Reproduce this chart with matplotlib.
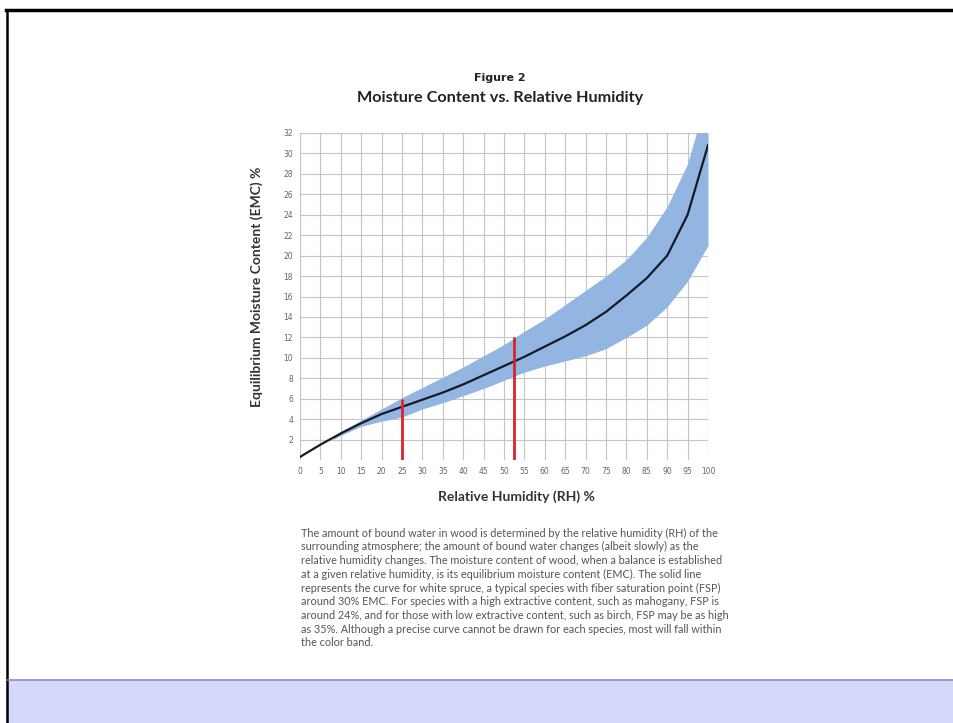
import matplotlib.pyplot as plt
from matplotlib.patches import Rectangle
from matplotlib.lines import Line2D
import numpy as np

# curve for white spruce
rh = [0, 5, 10, 15, 20, 25, 30, 35, 40, 45, 50, 55, 60, 65, 70, 75, 80, 85, 90, 95, 100]
emc = [0.3, 1.5, 2.6, 3.6, 4.5, 5.2, 5.9, 6.6, 7.4, 8.3, 9.2, 10.1, 11.1, 12.1, 13.2, 14.5, 16.1, 17.8, 20.0, 24.0, 30.8]

# colour band (species range)
band_rh = [8, 10, 15, 20, 25, 30, 35, 40, 45, 50, 55, 60, 65, 70, 75, 80, 85, 90, 95, 100]
band_hi = [2.2, 2.8, 3.9, 5.0, 6.1, 7.1, 8.1, 9.1, 10.2, 11.3, 12.6, 13.8, 15.2, 16.6, 18.0, 19.6, 21.8, 24.8, 29.0, 36.0]
band_lo = [2.0, 2.4, 3.3, 3.8, 4.2, 5.0, 5.6, 6.3, 7.0, 7.8, 8.6, 9.2, 9.7, 10.2, 10.9, 12.0, 13.2, 15.0, 17.5, 21.0]

# red markers
mark_rh = [25, 52.5]
mark_top = [6, 12]

xticks = list(range(0, 101, 5))
yticks = list(range(2, 33, 2))

caption = [
    "The amount of bound water in wood is determined by the relative humidity (RH) of the",
    "surrounding atmosphere; the amount of bound water changes (albeit slowly) as the",
    "relative humidity changes. The moisture content of wood, when a balance is established",
    "at a given relative humidity, is its equilibrium moisture content (EMC). The solid line",
    "represents the curve for white spruce, a typical species with fiber saturation point (FSP)",
    "around 30% EMC. For species with a high extractive content, such as mahogany, FSP is",
    "around 24%, and for those with low extractive content, such as birch, FSP may be as high",
    "as 35%. Although a precise curve cannot be drawn for each species, most will fall within",
    "the color band.",
]

W, H = 954, 723
fig = plt.figure(figsize=(W / 100, H / 100), dpi=100)
fig.patch.set_facecolor('white')

def fx(px):
    return px / W

def fy(py):
    return 1 - py / H

# page frame + blue footer bar
fig.add_artist(Line2D([fx(6), 1], [fy(10), fy(10)], color='black', lw=2.5))
fig.add_artist(Line2D([fx(7), fx(7)], [fy(10), 0], color='black', lw=1.8))
fig.add_artist(Rectangle((fx(8), 0), 1 - fx(8), fy(680), facecolor='#d6d8fc',
                         edgecolor='none'))
fig.add_artist(Line2D([fx(8), 1], [fy(680), fy(680)], color='#8a8fc4', lw=1.2))

ax = fig.add_axes([fx(300), fy(460), fx(708) - fx(300), fy(133) - fy(460)])
ax.set_xlim(0, 100)
ax.set_ylim(0, 32)

ax.fill_between(band_rh, band_lo, band_hi, color='#92b5e2', lw=0, zorder=2)
ax.plot(rh, emc, color='#161a24', lw=1.6, zorder=4)
for x, top in zip(mark_rh, mark_top):
    ax.plot([x, x], [0, top], color='#d8252b', lw=2.0, zorder=5, solid_capstyle='butt')

ax.set_xticks(xticks)
ax.set_yticks(yticks)
ax.grid(True, color='#c4c4c4', lw=0.8, zorder=1)
ax.set_axisbelow(True)
ax.tick_params(length=0, labelsize=5.5, labelcolor='#666666', pad=5)
for s in ax.spines.values():
    s.set_visible(False)
ax.axhline(32, color='#c4c4c4', lw=0.8, zorder=1)
ax.axvline(100, color='#c4c4c4', lw=0.8, zorder=1)

fig.text(fx(500), fy(78), "Figure 2", ha='center', va='center', fontsize=8,
         fontweight='bold', family='Liberation Sans Narrow', color='#222222')
fig.text(fx(500), fy(98), "Moisture Content vs. Relative Humidity", ha='center',
         va='center', fontsize=11.7, fontweight='bold', family='Lato', color='#222222')
fig.text(fx(516), fy(497), "Relative Humidity (RH) %", ha='center', va='center',
         fontsize=10, fontweight='bold', family='Lato', color='#333333')
fig.text(fx(257), fy(287), "Equilibrium Moisture Content (EMC) %", ha='center',
         va='center', rotation=90, fontsize=10, fontweight='bold', family='Lato',
         color='#333333')

for i, line in enumerate(caption):
    fig.text(fx(301), fy(533 + i * 13.75), line, ha='left', va='center',
             fontsize=7.8, family='Lato', color='#555555')

fig.savefig('out.png', dpi=100)
